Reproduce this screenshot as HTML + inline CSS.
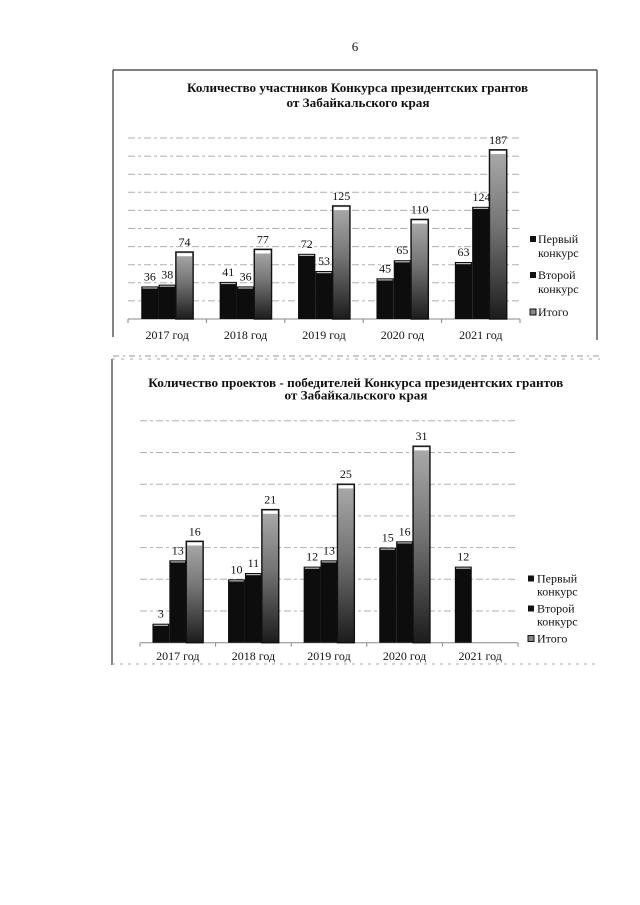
<!DOCTYPE html>
<html><head><meta charset="utf-8"><style>
html,body{margin:0;padding:0;background:#fff;}
svg{display:block;}
text{font-family:"Liberation Serif","Noto Serif CJK SC",serif;fill:#111;}
</style></head><body>
<svg width="640" height="905" viewBox="0 0 640 905" xmlns="http://www.w3.org/2000/svg">
<defs>
<linearGradient id="g3" x1="0" y1="0" x2="0" y2="1">
<stop offset="0" stop-color="#ababab"/>
<stop offset="0.45" stop-color="#747474"/>
<stop offset="1" stop-color="#1c1c1c"/>
</linearGradient>
</defs>
<rect width="640" height="905" fill="#fff"/>
<text x="355" y="51" font-size="13" text-anchor="middle">6</text>

<!-- ===== Chart 1 ===== -->
<g stroke="#333" stroke-width="1.2" fill="none">
<line x1="113" y1="70" x2="597" y2="70"/>
<line x1="113" y1="70" x2="113" y2="337"/>
<line x1="597" y1="70" x2="597" y2="340"/>
</g>
<line x1="113" y1="356" x2="600" y2="356" stroke="#999" stroke-width="1" stroke-dasharray="6 4 2 4"/>
<text x="357.5" y="92" font-size="13" font-weight="bold" text-anchor="middle" textLength="341" lengthAdjust="spacingAndGlyphs">Количество участников Конкурса президентских грантов</text>
<text x="358" y="107" font-size="13" font-weight="bold" text-anchor="middle" textLength="143" lengthAdjust="spacingAndGlyphs">от Забайкальского края</text>
<g stroke="#b0b0b0" stroke-width="1" stroke-dasharray="7 3 3 3">
<line x1="128" y1="138.0" x2="520" y2="138.0"/>
<line x1="128" y1="156.1" x2="520" y2="156.1"/>
<line x1="128" y1="174.2" x2="520" y2="174.2"/>
<line x1="128" y1="192.3" x2="520" y2="192.3"/>
<line x1="128" y1="210.4" x2="520" y2="210.4"/>
<line x1="128" y1="228.5" x2="520" y2="228.5"/>
<line x1="128" y1="246.6" x2="520" y2="246.6"/>
<line x1="128" y1="264.7" x2="520" y2="264.7"/>
<line x1="128" y1="282.8" x2="520" y2="282.8"/>
<line x1="128" y1="300.9" x2="520" y2="300.9"/>
</g>
<g stroke="#888" stroke-width="1">
<line x1="128" y1="319" x2="520" y2="319"/>
<line x1="128" y1="319" x2="128" y2="323"/>
<line x1="206.4" y1="319" x2="206.4" y2="323"/>
<line x1="284.8" y1="319" x2="284.8" y2="323"/>
<line x1="363.2" y1="319" x2="363.2" y2="323"/>
<line x1="441.6" y1="319" x2="441.6" y2="323"/>
<line x1="520" y1="319" x2="520" y2="323"/>
</g>
<!-- bars chart 1 -->
<g fill="#0d0d0d">
<rect x="141.25" y="286.4" width="17.3" height="32.6"/>
<rect x="158.55" y="284.6" width="17.3" height="34.4"/>
<rect x="219.65" y="281.9" width="17.3" height="37.1"/>
<rect x="236.95" y="286.4" width="17.3" height="32.6"/>
<rect x="298.05" y="253.8" width="17.3" height="65.2"/>
<rect x="315.35" y="271.0" width="17.3" height="48.0"/>
<rect x="376.45" y="278.3" width="17.3" height="40.7"/>
<rect x="393.75" y="260.2" width="17.3" height="58.8"/>
<rect x="454.85" y="262.0" width="17.3" height="57.0"/>
<rect x="472.15" y="206.8" width="17.3" height="112.2"/>
</g>
<g stroke="#bbb" stroke-width="1.2">
<line x1="142.5" y1="288" x2="157.3" y2="288"/>
<line x1="159.8" y1="286.2" x2="174.6" y2="286.2"/>
<line x1="220.9" y1="283.5" x2="235.7" y2="283.5"/>
<line x1="238.2" y1="288" x2="253" y2="288"/>
<line x1="299.3" y1="255.4" x2="314.1" y2="255.4"/>
<line x1="316.6" y1="272.6" x2="331.4" y2="272.6"/>
<line x1="377.7" y1="279.9" x2="392.5" y2="279.9"/>
<line x1="395" y1="261.8" x2="409.8" y2="261.8"/>
<line x1="456.1" y1="263.6" x2="470.9" y2="263.6"/>
<line x1="473.4" y1="208.4" x2="488.2" y2="208.4"/>
</g>
<g stroke="#111" stroke-width="1.4" fill="url(#g3)">
<rect x="175.85" y="252.0" width="17.3" height="67.0"/>
<rect x="254.25" y="249.3" width="17.3" height="69.7"/>
<rect x="332.65" y="205.9" width="17.3" height="113.1"/>
<rect x="411.05" y="219.4" width="17.3" height="99.6"/>
<rect x="489.45" y="149.8" width="17.3" height="169.2"/>
</g>
<g fill="#fff">
<rect x="177" y="253.2" width="15" height="3"/>
<rect x="255.4" y="250.5" width="15" height="3"/>
<rect x="333.8" y="207.1" width="15" height="3"/>
<rect x="412.2" y="220.6" width="15" height="3"/>
<rect x="490.6" y="151" width="15" height="3"/>
</g>
<g font-size="12" text-anchor="middle">
<text x="149.9" y="280.4">36</text>
<text x="167.2" y="278.6">38</text>
<text x="184.5" y="246.0">74</text>
<text x="228.3" y="275.9">41</text>
<text x="245.6" y="280.4">36</text>
<text x="262.9" y="243.3">77</text>
<text x="306.7" y="247.8">72</text>
<text x="324.0" y="265.0">53</text>
<text x="341.3" y="199.9">125</text>
<text x="385.1" y="272.3">45</text>
<text x="402.4" y="254.2">65</text>
<text x="419.7" y="213.4">110</text>
<text x="463.5" y="256.0">63</text>
<text x="481.5" y="200.8">124</text>
<text x="498.1" y="143.8">187</text>
</g>
<g font-size="12" text-anchor="middle">
<text x="167.2" y="339">2017 год</text>
<text x="245.6" y="339">2018 год</text>
<text x="324.0" y="339">2019 год</text>
<text x="402.4" y="339">2020 год</text>
<text x="480.8" y="339">2021 год</text>
</g>
<g>
<rect x="530" y="236" width="6" height="6" fill="#111"/>
<rect x="530" y="272" width="6" height="6" fill="#111"/>
<rect x="530" y="309" width="6" height="6" fill="#888" stroke="#111" stroke-width="1"/>
</g>
<g font-size="12">
<text x="538" y="243">Первый</text>
<text x="538" y="257">конкурс</text>
<text x="538" y="279">Второй</text>
<text x="538" y="293">конкурс</text>
<text x="538" y="316">Итого</text>
</g>

<!-- ===== Chart 2 ===== -->
<line x1="112" y1="359" x2="112" y2="665" stroke="#333" stroke-width="1.2"/>
<line x1="112" y1="359" x2="600" y2="359" stroke="#aaa" stroke-width="1" stroke-dasharray="3 6"/>
<line x1="112" y1="664" x2="600" y2="664" stroke="#aaa" stroke-width="1" stroke-dasharray="3 5"/>
<text x="355.8" y="387" font-size="13" font-weight="bold" text-anchor="middle" textLength="415" lengthAdjust="spacingAndGlyphs">Количество проектов - победителей Конкурса президентских грантов</text>
<text x="356" y="399.5" font-size="13" font-weight="bold" text-anchor="middle" textLength="143" lengthAdjust="spacingAndGlyphs">от Забайкальского края</text>
<g stroke="#b0b0b0" stroke-width="1" stroke-dasharray="7 3 3 3">
<line x1="140" y1="420.8" x2="518" y2="420.8"/>
<line x1="140" y1="452.5" x2="518" y2="452.5"/>
<line x1="140" y1="484.2" x2="518" y2="484.2"/>
<line x1="140" y1="515.9" x2="518" y2="515.9"/>
<line x1="140" y1="547.6" x2="518" y2="547.6"/>
<line x1="140" y1="579.3" x2="518" y2="579.3"/>
<line x1="140" y1="611.0" x2="518" y2="611.0"/>
</g>
<g stroke="#888" stroke-width="1">
<line x1="140" y1="642.7" x2="518" y2="642.7"/>
<line x1="140" y1="642.7" x2="140" y2="646.7"/>
<line x1="215.6" y1="642.7" x2="215.6" y2="646.7"/>
<line x1="291.2" y1="642.7" x2="291.2" y2="646.7"/>
<line x1="366.8" y1="642.7" x2="366.8" y2="646.7"/>
<line x1="442.4" y1="642.7" x2="442.4" y2="646.7"/>
<line x1="518" y1="642.7" x2="518" y2="646.7"/>
</g>
<g fill="#0d0d0d">
<rect x="152.45" y="623.7" width="16.9" height="19.0"/>
<rect x="169.35" y="560.3" width="16.9" height="82.4"/>
<rect x="228.05" y="579.3" width="16.9" height="63.4"/>
<rect x="244.95" y="573.0" width="16.9" height="69.7"/>
<rect x="303.65" y="566.6" width="16.9" height="76.1"/>
<rect x="320.55" y="560.3" width="16.9" height="82.4"/>
<rect x="379.25" y="547.6" width="16.9" height="95.1"/>
<rect x="396.15" y="541.3" width="16.9" height="101.4"/>
<rect x="454.85" y="566.6" width="16.9" height="76.1"/>
</g>
<g stroke="#bbb" stroke-width="1.2">
<line x1="153.7" y1="625.3" x2="168.1" y2="625.3"/>
<line x1="170.6" y1="561.9" x2="185" y2="561.9"/>
<line x1="229.3" y1="580.9" x2="243.7" y2="580.9"/>
<line x1="246.2" y1="574.6" x2="260.6" y2="574.6"/>
<line x1="304.9" y1="568.2" x2="319.3" y2="568.2"/>
<line x1="321.8" y1="561.9" x2="336.2" y2="561.9"/>
<line x1="380.5" y1="549.2" x2="394.9" y2="549.2"/>
<line x1="397.4" y1="542.9" x2="411.8" y2="542.9"/>
<line x1="456.1" y1="568.2" x2="470.5" y2="568.2"/>
</g>
<g stroke="#111" stroke-width="1.4" fill="url(#g3)">
<rect x="186.25" y="541.3" width="16.9" height="101.4"/>
<rect x="261.85" y="509.6" width="16.9" height="133.1"/>
<rect x="337.45" y="484.2" width="16.9" height="158.5"/>
<rect x="413.05" y="446.2" width="16.9" height="196.5"/>
</g>
<g fill="#fff">
<rect x="187.4" y="542.5" width="14.6" height="3"/>
<rect x="263" y="510.8" width="14.6" height="3"/>
<rect x="338.6" y="485.4" width="14.6" height="3"/>
<rect x="414.2" y="447.4" width="14.6" height="3"/>
</g>
<g font-size="12" text-anchor="middle">
<text x="160.9" y="617.7">3</text>
<text x="177.8" y="554.3">13</text>
<text x="194.7" y="535.3">16</text>
<text x="236.5" y="573.3">10</text>
<text x="253.4" y="567.0">11</text>
<text x="270.3" y="503.6">21</text>
<text x="312.1" y="560.6">12</text>
<text x="329.0" y="554.3">13</text>
<text x="345.9" y="478.2">25</text>
<text x="387.7" y="541.6">15</text>
<text x="404.6" y="535.3">16</text>
<text x="421.5" y="440.2">31</text>
<text x="463.3" y="560.6">12</text>
</g>
<g font-size="12" text-anchor="middle">
<text x="177.8" y="660">2017 год</text>
<text x="253.4" y="660">2018 год</text>
<text x="329.0" y="660">2019 год</text>
<text x="404.6" y="660">2020 год</text>
<text x="480.2" y="660">2021 год</text>
</g>
<g>
<rect x="528" y="575.5" width="6" height="6" fill="#111"/>
<rect x="528" y="605.5" width="6" height="6" fill="#111"/>
<rect x="528" y="635.5" width="6" height="6" fill="#888" stroke="#111" stroke-width="1"/>
</g>
<g font-size="12">
<text x="537" y="582.5">Первый</text>
<text x="537" y="595.5">конкурс</text>
<text x="537" y="612.5">Второй</text>
<text x="537" y="625.7">конкурс</text>
<text x="537" y="642.5">Итого</text>
</g>
</svg>
</body></html>
